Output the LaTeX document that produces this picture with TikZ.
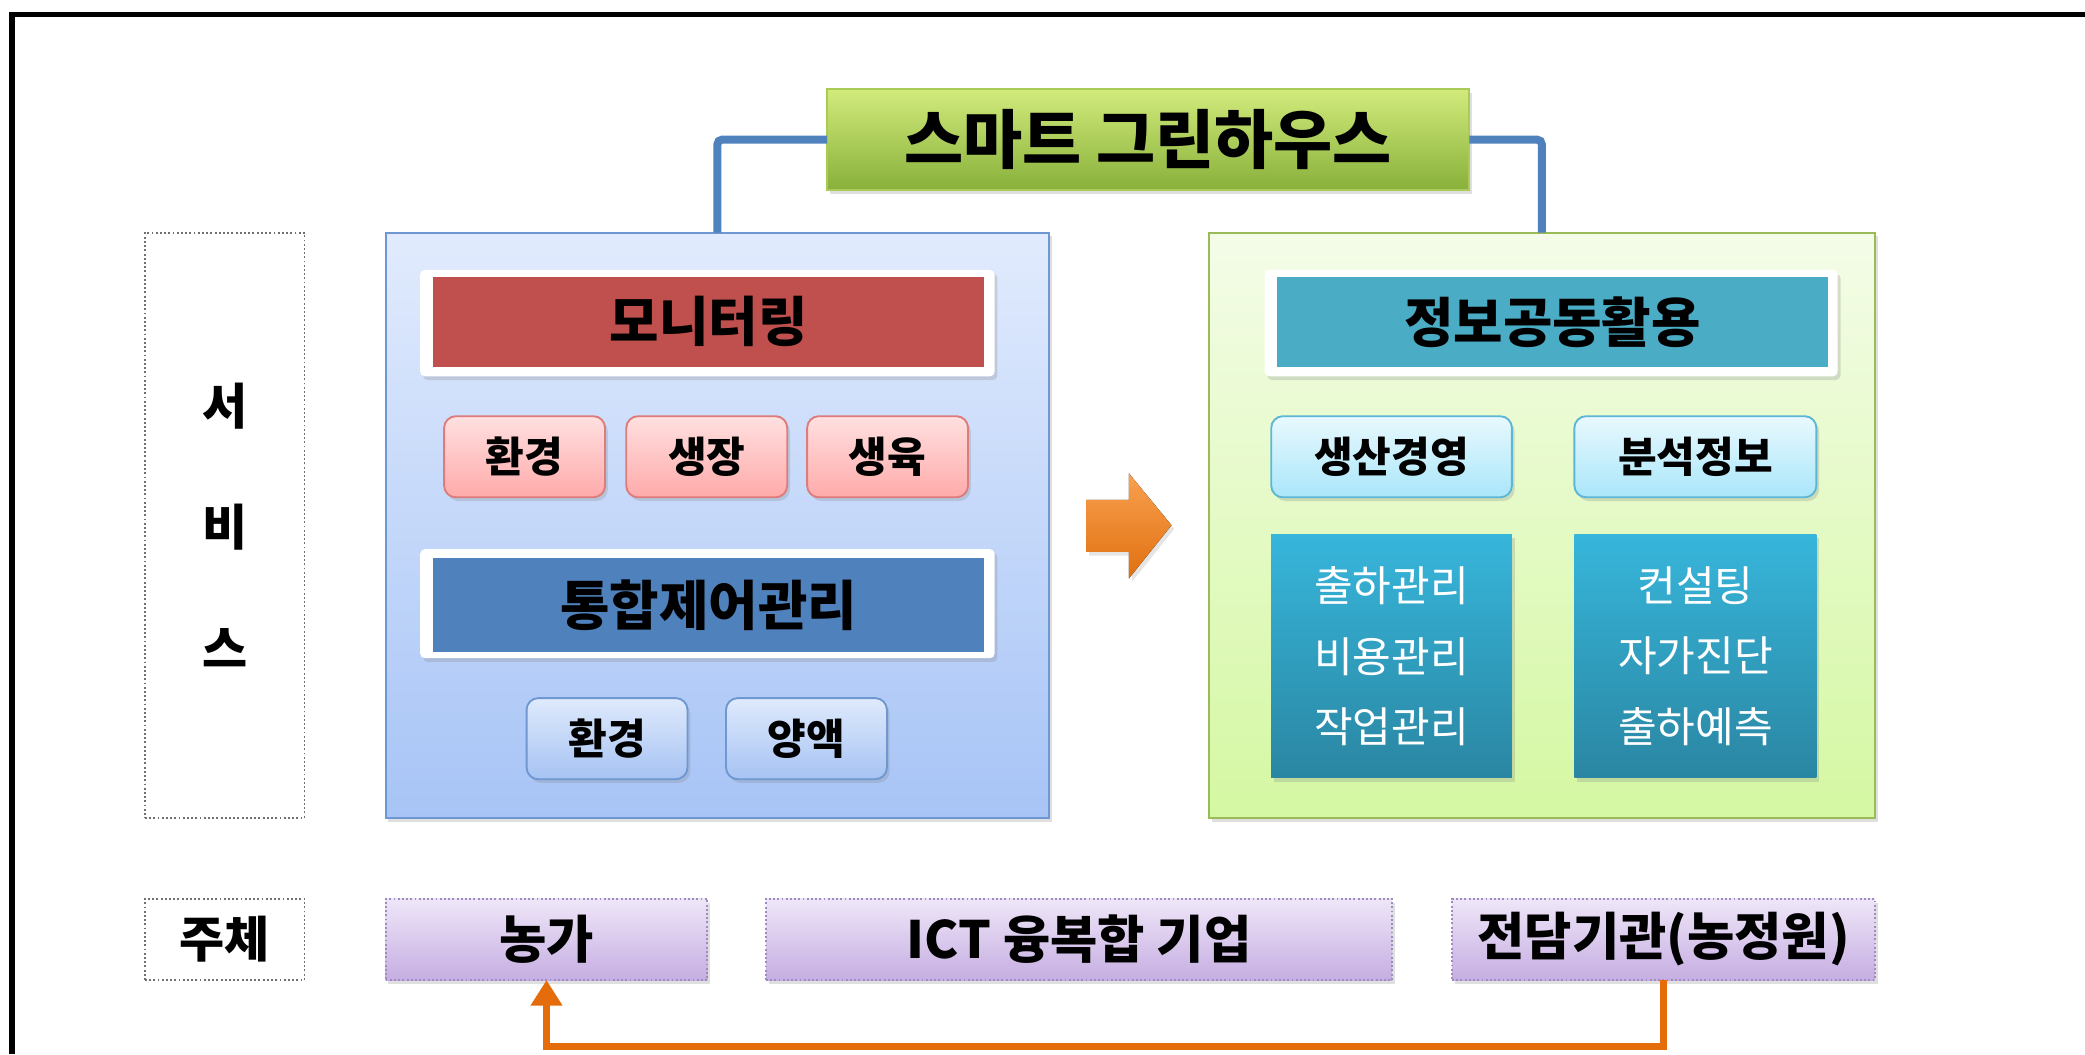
\documentclass[tikz,border=0pt]{standalone}
\usepackage{fontspec}
\setmainfont{Noto Sans CJK KR}
\usetikzlibrary{arrows.meta,shadows}
\definecolor{cRed}{HTML}{C0504D}
\definecolor{cBlue}{HTML}{4F81BD}
\definecolor{cTeal}{HTML}{4BACC6}
\definecolor{cOrange}{HTML}{E46C0A}
\definecolor{tTop}{HTML}{D2EB7C}\definecolor{tBot}{HTML}{88B03A}\definecolor{tDraw}{HTML}{A8CC55}
\definecolor{lpTop}{HTML}{E1EBFD}\definecolor{lpBot}{HTML}{A7C4F6}\definecolor{lpDraw}{HTML}{6F97D3}
\definecolor{rpTop}{HTML}{F4FCE8}\definecolor{rpBot}{HTML}{D4F8A2}\definecolor{rpDraw}{HTML}{9BBB59}
\definecolor{pkTop}{HTML}{FFE0E0}\definecolor{pkBot}{HTML}{FFAAAA}\definecolor{pkDraw}{HTML}{DE7B7B}
\definecolor{lbTop}{HTML}{DFEAFC}\definecolor{lbBot}{HTML}{A6C3F3}\definecolor{lbDraw}{HTML}{6F97D1}
\definecolor{cyTop}{HTML}{E8F9FE}\definecolor{cyBot}{HTML}{AAE6FA}\definecolor{cyDraw}{HTML}{5CB7D6}
\definecolor{tgTop}{HTML}{37B6DB}\definecolor{tgBot}{HTML}{2A86A2}
\definecolor{dotDraw}{HTML}{707070}
\definecolor{puTop}{HTML}{EEE6F8}\definecolor{puBot}{HTML}{C6AEE2}\definecolor{puDraw}{HTML}{9E8BC0}
\definecolor{arTop}{HTML}{F9A050}\definecolor{arBot}{HTML}{E0700F}
\newcommand\mybox[7]{%
  \node[#1, minimum width={(#5-#3)*0.02cm}, minimum height={(#6-#4)*0.02cm}] (#2) at ({(#3+#5)/2},{(#4+#6)/2}) {#7};}
\tikzset{
  base/.style={inner sep=0pt, outer sep=0pt, align=center, font=\bfseries},
  shad/.style={drop shadow={shadow xshift=1.2pt, shadow yshift=-1.6pt, opacity=0.25}},
  titlebox/.style={base, shad, top color=tTop, bottom color=tBot, draw=tDraw, line width=0.8pt, font=\bfseries\fontsize{27.5}{30}\selectfont},
  lpanel/.style={base, top color=lpTop, bottom color=lpBot, draw=lpDraw, line width=0.8pt, shad},
  rpanel/.style={base, top color=rpTop, bottom color=rpBot, draw=rpDraw, line width=0.8pt, shad},
  wframe/.style={base, fill=white, rounded corners=2pt, shad},
  headbox/.style={base, font=\bfseries\fontsize{23}{26}\selectfont},
  pinkbox/.style={base, rounded corners=5pt, top color=pkTop, bottom color=pkBot, draw=pkDraw, line width=0.8pt, shad, font=\bfseries\fontsize{18}{20}\selectfont},
  lbluebox/.style={base, rounded corners=5pt, top color=lbTop, bottom color=lbBot, draw=lbDraw, line width=0.8pt, shad, font=\bfseries\fontsize{18}{20}\selectfont},
  cyanbox/.style={base, rounded corners=5pt, top color=cyTop, bottom color=cyBot, draw=cyDraw, line width=0.8pt, shad, font=\bfseries\fontsize{18}{20}\selectfont},
  tealgrad/.style={base, top color=tgTop, bottom color=tgBot, shad, text=white, font=\fontsize{18}{30}\selectfont},
  dotbox/.style={base, draw=dotDraw, densely dotted, line width=0.8pt, font=\bfseries\fontsize{21}{52}\selectfont},
  purplebox/.style={base, top color=puTop, bottom color=puBot, draw=puDraw, densely dotted, line width=0.8pt, shad, font=\bfseries\fontsize{22}{24}\selectfont},
  bluecon/.style={draw=cBlue, line width=3.4pt, rounded corners=2pt},
  orangecon/.style={draw=cOrange, line width=3.4pt, -{Triangle[width=13pt,length=11pt]}},
}
\begin{document}
\begin{tikzpicture}[x=0.02cm, y=-0.02cm]
\useasboundingbox (0,0) rectangle (1568,793);
\fill[white] (0,0) rectangle (1568,793);
% outer frame
\draw[line width=2.4pt] (9,793) -- (9,11) -- (1568,11);
% panels
\mybox{lpanel}{lp}{290}{175}{789}{615}{}
\mybox{rpanel}{rp}{909}{175}{1410}{615}{}
% title
\mybox{titlebox}{title}{622}{67}{1105}{143}{스마트 그린하우스}
\draw[bluecon] (title.west) -| (lp.north);
\draw[bluecon] (title.east) -| (rp.north);
% left panel content
\mybox{wframe}{monf}{316}{203}{748}{283}{}
\mybox{headbox, fill=cRed}{mon}{326}{208}{740}{276}{모니터링}
\mybox{pinkbox}{m1}{334}{313}{455}{374}{환경}
\mybox{pinkbox}{m2}{471}{313}{592}{374}{생장}
\mybox{pinkbox}{m3}{607}{313}{728}{374}{생육}
\mybox{wframe}{ctlf}{316}{413}{748}{495}{}
\mybox{headbox, fill=cBlue}{ctl}{326}{420}{740}{490}{통합제어관리}
\mybox{lbluebox}{c1}{396}{525}{517}{586}{환경}
\mybox{lbluebox}{c2}{546}{525}{667}{586}{양액}
% big arrow
\fill[top color=arTop, bottom color=arBot, drop shadow={shadow xshift=1.2pt, shadow yshift=-1.6pt, opacity=0.2}]
  (817,376) -- (849,376) -- (849,356) -- (881,395) -- (849,435) -- (849,415) -- (817,415) -- cycle;
% right panel content
\mybox{wframe}{infof}{951}{203}{1382}{283}{}
\mybox{headbox, fill=cTeal}{info}{960}{208}{1375}{276}{정보공동활용}
\mybox{cyanbox}{r1}{956}{313}{1137}{374}{생산경영}
\mybox{cyanbox}{r2}{1184}{313}{1366}{374}{분석정보}
\mybox{tealgrad}{t1}{956}{402}{1137}{585}{출하관리\\비용관리\\작업관리}
\mybox{tealgrad}{t2}{1184}{402}{1366}{585}{컨설팅\\자가진단\\출하예측}
% left labels
\mybox{dotbox}{svc}{109}{175}{229}{615}{서\\비\\스}
\mybox{dotbox}{subj}{109}{676}{229}{737}{주체}
% bottom row
\mybox{purplebox}{ng}{290}{676}{532}{737}{농가}
\mybox{purplebox}{ict}{576}{676}{1047}{737}{ICT 융복합 기업}
\mybox{purplebox}{jd}{1092}{676}{1410}{737}{전담기관(농정원)}
\draw[orangecon] (jd.south) -- ++(0,50) -| (ng.south);
\end{tikzpicture}
\end{document}
